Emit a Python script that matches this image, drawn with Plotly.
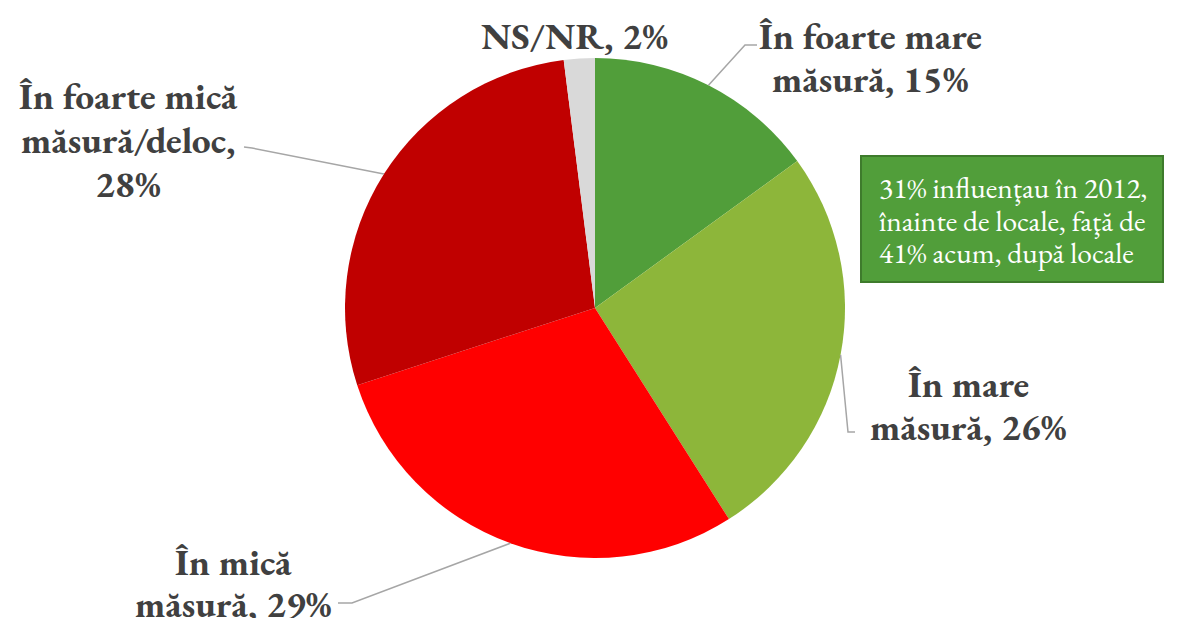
import math
import plotly.graph_objects as go

W, H = 1181, 618

labels = ["În foarte mare măsură", "În mare măsură", "În mică măsură",
          "În foarte mică măsură/deloc", "NS/NR"]
values = [15, 26, 29, 28, 2]
colors = ["#519E3A", "#8DB63A", "#FF0000", "#C00000", "#D9D9D9"]
label_lines = [["În foarte mare", "măsură, 15%"], ["În mare", "măsură, 26%"],
               ["În mică", "măsură, 29%"], ["În foarte mică", "măsură/deloc,", "28%"],
               ["NS/NR, 2%"]]
note_lines = ["31% influenţau în 2012,", "înainte de locale, faţă de",
              "41% acum, după locale"]

# layout (pixels)
cx, cy, R = 595, 308, 250
label_x = [870, 968, 233, 128, 574]
label_y = [[36, 79], [384, 427], [561, 603], [96, 139, 183], [36]]
leader_pts = [[(745, 45), (757, 45)], [(848, 432), (855, 432)],
              [(352, 603), (338, 603)], [(252, 148), (244, 147)], None]
note_y = [187, 220, 253]

def px(x):
    return x / W

def py(y):
    return 1 - y / H

FONT = "EB Garamond, Garamond, Liberation Serif, serif"

fig = go.Figure(go.Pie(
    labels=labels, values=values, sort=False, direction="clockwise", rotation=0,
    marker=dict(colors=colors, line=dict(color="white", width=0)),
    textinfo="none", hoverinfo="label+percent", showlegend=False,
    domain=dict(x=[px(cx - R), px(cx + R)], y=[py(cy + R), py(cy - R)]),
))

font_lbl = dict(family=FONT, size=37.5, color="#404040")
annotations = []
shapes = []
total = sum(values)
cum = 0
for i, v in enumerate(values):
    mid = (cum + v / 2) / total * 2 * math.pi
    cum += v
    ex, ey = cx + R * math.sin(mid), cy - R * math.cos(mid)
    for line, ly in zip(label_lines[i], label_y[i]):
        annotations.append(dict(x=px(label_x[i]), y=py(ly), xref="paper", yref="paper",
                                text="<b>" + line + "</b>", showarrow=False,
                                xanchor="center", yanchor="middle", align="center",
                                font=font_lbl))
    if leader_pts[i]:
        pts = [(ex, ey)] + leader_pts[i]
        path = "M " + " L ".join(f"{px(a)},{py(b)}" for a, b in pts)
        shapes.append(dict(type="path", path=path, xref="paper", yref="paper",
                           line=dict(color="#A6A6A6", width=1.5)))

# note box
shapes.append(dict(type="rect", xref="paper", yref="paper",
                   x0=px(861), x1=px(1163), y0=py(282), y1=py(156),
                   fillcolor="#519E3A", line=dict(color="#3E7B2C", width=2)))
for line, ly in zip(note_lines, note_y):
    annotations.append(dict(x=px(877), y=py(ly), xref="paper", yref="paper",
                            text=line, showarrow=False, xanchor="left", yanchor="middle",
                            align="left", font=dict(family=FONT, size=29.5, color="white")))

fig.update_layout(width=W, height=H, margin=dict(l=0, r=0, t=0, b=0),
                  paper_bgcolor="white", plot_bgcolor="white",
                  annotations=annotations, shapes=shapes)
fig.write_html("out.html", config={"displayModeBar": False},
               post_script="document.body.style.margin='0';document.body.style.overflow='hidden';")
